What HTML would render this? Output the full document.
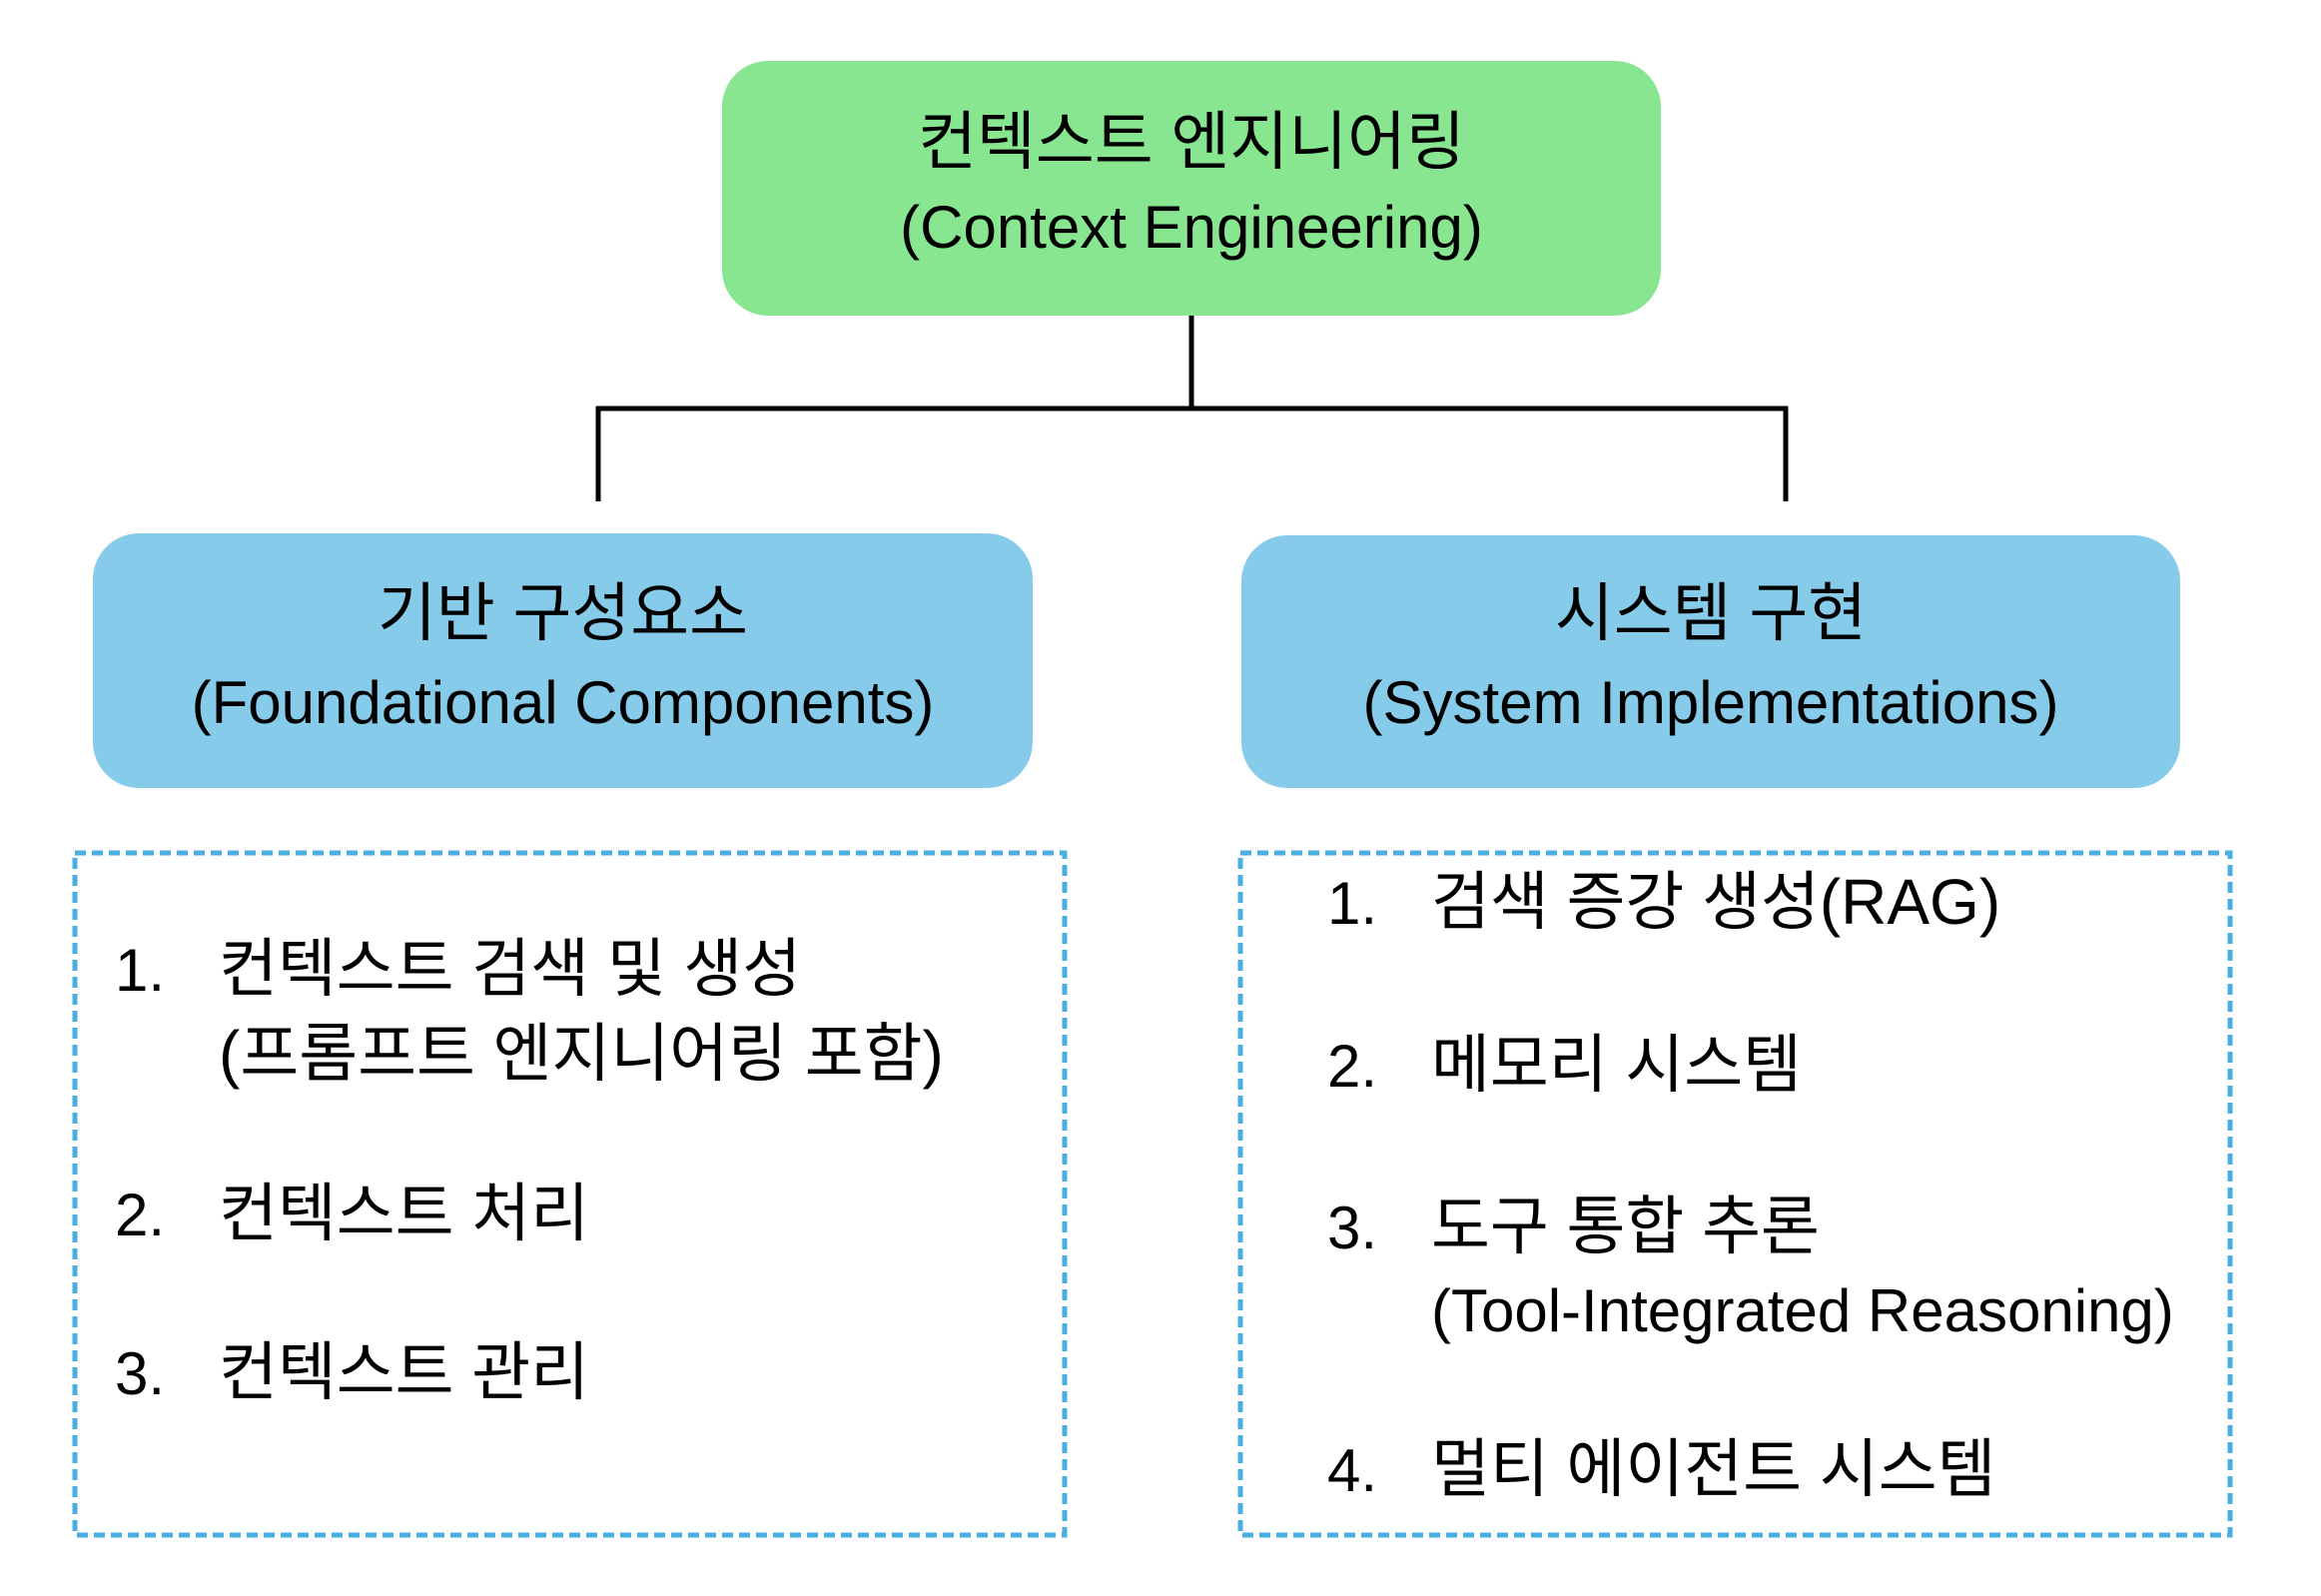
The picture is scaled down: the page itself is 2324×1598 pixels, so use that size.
<!DOCTYPE html>
<html><head><meta charset="utf-8"><style>
html,body{margin:0;padding:0;background:#fff;}
body{width:2324px;height:1598px;position:relative;overflow:hidden;font-family:"Liberation Sans","Noto Sans CJK KR",sans-serif;color:#000;}
.box{position:absolute;border-radius:46px;}
.t{position:absolute;white-space:nowrap;font-size:60px;line-height:1;transform:translateY(-50%);}
.c{text-align:center;}
</style></head><body>
<div class="box" style="left:723px;top:61px;width:940px;height:255px;background:#88e590;"></div>
<div class="box" style="left:93px;top:534px;width:941px;height:255px;background:#87cbeb;"></div>
<div class="box" style="left:1243px;top:536px;width:940px;height:253px;background:#87cbeb;"></div>
<svg style="position:absolute;left:0;top:0" width="2324" height="1598">
<g stroke="#000" stroke-width="5" fill="none">
<line x1="1193" y1="316" x2="1193" y2="409"/>
<line x1="597" y1="409" x2="1790" y2="409"/>
<line x1="599" y1="407" x2="599" y2="502"/>
<line x1="1788" y1="407" x2="1788" y2="502"/>
</g>
<g stroke="#4aaee2" stroke-width="5" fill="none" stroke-dasharray="11 6">
<rect x="75" y="854" width="991" height="683"/>
<rect x="1242" y="854" width="991" height="683"/>
</g>
</svg>
<div class="t c" style="left:723px;width:940px;top:142px;font-size:64px;">컨텍스트 엔지니어링</div>
<div class="t c" style="left:723px;width:940px;top:228px;">(Context Engineering)</div>
<div class="t c" style="left:93px;width:941px;top:614px;font-size:64px;">기반 구성요소</div>
<div class="t c" style="left:93px;width:941px;top:704px;">(Foundational Components)</div>
<div class="t c" style="left:1243px;width:940px;top:614px;font-size:64px;">시스템 구현</div>
<div class="t c" style="left:1243px;width:940px;top:704px;">(System Implementations)</div>

<div class="t" style="left:115px;top:972px;">1.</div>
<div class="t" style="left:219px;top:970px;font-size:64px;">컨텍스트 검색 및 생성</div>
<div class="t" style="left:219px;top:1055px;font-size:64px;">(프롬프트 엔지니어링 포함)</div>
<div class="t" style="left:115px;top:1217px;">2.</div>
<div class="t" style="left:219px;top:1215px;font-size:64px;">컨텍스트 처리</div>
<div class="t" style="left:115px;top:1376px;">3.</div>
<div class="t" style="left:219px;top:1374px;font-size:64px;">컨텍스트 관리</div>

<div class="t" style="left:1329px;top:905px;">1.</div>
<div class="t" style="left:1433px;top:903px;font-size:64px;">검색 증강 생성(RAG)</div>
<div class="t" style="left:1329px;top:1068px;">2.</div>
<div class="t" style="left:1433px;top:1066px;font-size:64px;">메모리 시스템</div>
<div class="t" style="left:1329px;top:1230px;">3.</div>
<div class="t" style="left:1433px;top:1228px;font-size:64px;">도구 통합 추론</div>
<div class="t" style="left:1433px;top:1313px;">(Tool-Integrated Reasoning)</div>
<div class="t" style="left:1329px;top:1473px;">4.</div>
<div class="t" style="left:1433px;top:1471px;font-size:64px;">멀티 에이전트 시스템</div>
</body></html>
